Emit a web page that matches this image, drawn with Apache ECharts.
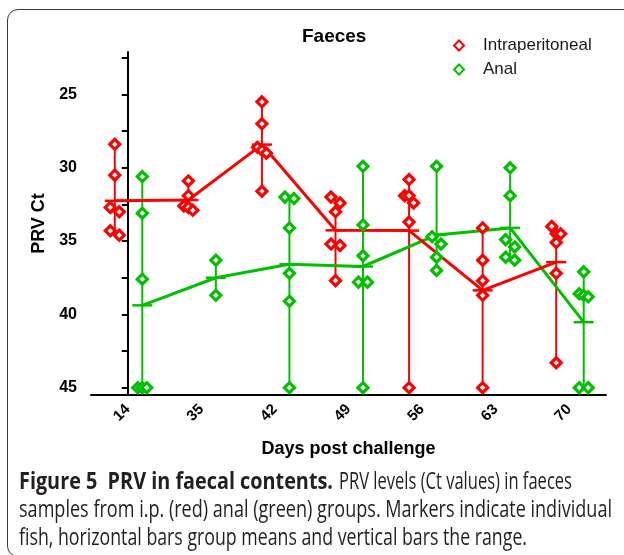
<!DOCTYPE html>
<html><head><meta charset="utf-8">
<script src="https://cdn.jsdelivr.net/npm/echarts@6/dist/echarts.min.js"></script>
<style>
html,body{margin:0;padding:0;background:#fff;}
#wrap{position:relative;width:624px;height:555px;overflow:hidden;background:#fff;}
#frame{position:absolute;left:7px;top:9px;width:680px;height:548px;border:1.5px solid #3a3a3a;border-radius:11px;box-sizing:border-box;}
#chart{position:absolute;left:0;top:0;width:624px;height:470px;}
.cap{position:absolute;white-space:nowrap;font-family:'Open Sans';font-size:24px;line-height:28px;color:#231f20;transform-origin:0 0;}
.cap.b{font-weight:700;}
</style></head>
<body>
<div id="wrap">
  <div id="frame"></div>
  <div id="chart"></div>
  <div class="cap b" id="c1a" style="left:19px;top:466px" data-w="314">Figure 5&nbsp; PRV in faecal contents.</div>
  <div class="cap" id="c1b" style="left:339px;top:466px" data-w="233">PRV levels (Ct values) in faeces</div>
  <div class="cap" id="c2" style="left:19px;top:494px" data-w="593">samples from i.p. (red) anal (green) groups. Markers indicate individual</div>
  <div class="cap" id="c3" style="left:19px;top:522px" data-w="508">fish, horizontal bars group means and vertical bars the range.</div>
</div>
<script>
// ---- data ----
const categories = ['14', '35', '42', '49', '56', '63', '70'];
const ipValues = [
  [28.4, 30.5, 32.7, 33.0, 34.3, 34.6],
  [30.9, 31.9, 32.6, 32.7, 32.9],
  [25.5, 27.0, 28.6, 28.8, 29.0, 31.6],
  [32.0, 32.4, 33.0, 35.2, 35.3, 37.7],
  [30.8, 31.9, 31.9, 32.4, 33.7, 45.0],
  [34.1, 36.3, 37.7, 38.7, 45.0],
  [34.0, 34.5, 34.5, 35.1, 37.2, 43.3]
];
const analValues = [
  [30.6, 33.1, 37.6, 45.0, 45.0, 45.0],
  [36.3, 38.7],
  [32.0, 32.1, 34.1, 37.2, 39.1, 45.0],
  [29.9, 33.9, 36.0, 37.8, 37.8, 45.0],
  [29.9, 34.7, 35.2, 36.1, 37.0],
  [30.0, 31.9, 34.9, 35.4, 36.1, 36.3],
  [37.1, 38.6, 38.7, 38.8, 45.0, 45.0]
];
const yTickValues = [22.5, 25, 27.5, 30, 32.5, 35, 37.5, 40, 42.5, 45];
const yLabelValues = [25, 30, 35, 40, 45];

// ---- layout / style ----
const RED = '#ff0000', GREEN = '#00c000';
const GRID = {left: 91, top: 52, width: 515, height: 343};
const unit = GRID.width / categories.length;
const FONT = 'Liberation Sans';

function spread(vals) { // horizontal jitter (px) for overlapping markers
  const s = vals.map((v, i) => ({v, i})).sort((a, b) => a.v - b.v);
  const out = new Array(vals.length).fill(0);
  let cl = [s[0]];
  const flush = () => {
    const n = cl.length;
    const W = n <= 1 ? 0 : (n <= 3 ? 4.5 : 6.5);
    cl.forEach((p, k) => { out[p.i] = n <= 1 ? 0 : -W + 2 * W * k / (n - 1); });
  };
  for (let k = 1; k < s.length; k++) {
    if (s[k].v - s[k - 1].v < 0.6) cl.push(s[k]); else { flush(); cl = [s[k]]; }
  }
  flush();
  return out;
}
function build(values, shiftPx) {
  const pts = [], ranges = [], means = [];
  values.forEach((vals, i) => {
    const x = i + shiftPx / unit;
    const off = spread(vals);
    vals.forEach((v, k) => pts.push([x + off[k] / unit, v]));
    const mean = vals.reduce((a, b) => a + b, 0) / vals.length;
    ranges.push([x, Math.min(...vals), Math.max(...vals), mean]);
    means.push([x, mean]);
  });
  return {pts, ranges, means};
}
const ip = build(ipValues, -13);
const an = build(analValues, 14.5);

function rangeSeries(name, color, d) {
  return {
    name, type: 'custom', xAxisIndex: 1, yAxisIndex: 0, z: 3, data: d.ranges,
    renderItem(params, api) {
      const x = api.value(0);
      const pLo = api.coord([x, api.value(1)]);
      const pHi = api.coord([x, api.value(2)]);
      const pM = api.coord([x, api.value(3)]);
      return {type: 'group', children: [
        {type: 'line', shape: {x1: pLo[0], y1: pLo[1], x2: pHi[0], y2: pHi[1]}, style: {stroke: color, lineWidth: 2}},
        {type: 'line', shape: {x1: pM[0] - 10, y1: pM[1], x2: pM[0] + 10, y2: pM[1]}, style: {stroke: color, lineWidth: 2.5}}
      ]};
    }
  };
}
function meanSeries(name, color, d) {
  return {name, type: 'line', xAxisIndex: 1, yAxisIndex: 0, z: 4, data: d.means, symbol: 'none',
    lineStyle: {color, width: 3}, itemStyle: {color}, silent: true, animation: false};
}
function pointSeries(name, color, d) {
  return {name, type: 'scatter', xAxisIndex: 1, yAxisIndex: 0, z: 5, data: d.pts, symbol: 'diamond', symbolSize: 10,
    itemStyle: {color: '#ffffff', borderColor: color, borderWidth: 3.2, opacity: 1}};
}

const chart = echarts.init(document.getElementById('chart'), null, {renderer: 'canvas'});
chart.setOption({
  animation: false,
  backgroundColor: 'transparent',
  textStyle: {fontFamily: FONT},
  title: {text: 'Faeces', left: 302, top: 27, padding: 0,
    textStyle: {fontFamily: FONT, fontSize: 19, fontWeight: 'bold', color: '#000'}},
  legend: {
    orient: 'vertical', left: 453, top: 37, padding: 0, itemWidth: 10, itemHeight: 10, itemGap: 7,
    selectedMode: false,
    textStyle: {fontFamily: FONT, fontSize: 17, color: '#1a1a1a', padding: [0, 0, 0, 14]},
    data: [{name: 'Intraperitoneal', icon: 'diamond'}, {name: 'Anal', icon: 'diamond'}]
  },
  grid: {left: GRID.left, top: GRID.top, width: GRID.width, height: GRID.height, containLabel: false},
  xAxis: [
    {type: 'category', data: categories, boundaryGap: true,
      name: 'Days post challenge', nameLocation: 'middle', nameGap: 45,
      nameTextStyle: {fontFamily: FONT, fontSize: 18, fontWeight: 'bold', color: '#000'},
      axisLine: {lineStyle: {color: '#000', width: 2}},
      axisTick: {alignWithLabel: true, length: 7, lineStyle: {color: '#000', width: 2}},
      axisLabel: {rotate: 45, margin: 12, fontFamily: FONT, fontSize: 15, fontWeight: 'bold', color: '#000'},
      splitLine: {show: false}},
    {type: 'value', min: -0.5, max: categories.length - 0.5, show: false}
  ],
  yAxis: [{
    type: 'value', inverse: true, min: 22.1, max: 45.5,
    name: 'PRV Ct', nameLocation: 'middle', nameGap: 41, nameRotate: 90,
    nameTextStyle: {fontFamily: FONT, fontSize: 18, fontWeight: 'bold', color: '#000'},
    axisLine: {show: true, lineStyle: {color: '#000', width: 2}},
    axisTick: {show: true, length: 6, customValues: yTickValues, lineStyle: {color: '#000', width: 2}},
    axisLabel: {customValues: yLabelValues, margin: 14, fontFamily: FONT, fontSize: 16, fontWeight: 'bold', color: '#000'},
    splitLine: {show: false}
  }],
  series: [
    pointSeries('Intraperitoneal', RED, ip),
    pointSeries('Anal', GREEN, an),
    rangeSeries('Anal', GREEN, an),
    rangeSeries('Intraperitoneal', RED, ip),
    meanSeries('Anal', GREEN, an),
    meanSeries('Intraperitoneal', RED, ip)
  ]
});

function fitCaption() {
  document.querySelectorAll('.cap').forEach(el => {
    el.style.transform = 'none';
    const w = el.getBoundingClientRect().width;
    const target = parseFloat(el.getAttribute('data-w'));
    if (w > 0) el.style.transform = 'scaleX(' + (target / w) + ')';
  });
}
fitCaption();
if (document.fonts && document.fonts.ready) document.fonts.ready.then(fitCaption);
</script>
</body></html>
